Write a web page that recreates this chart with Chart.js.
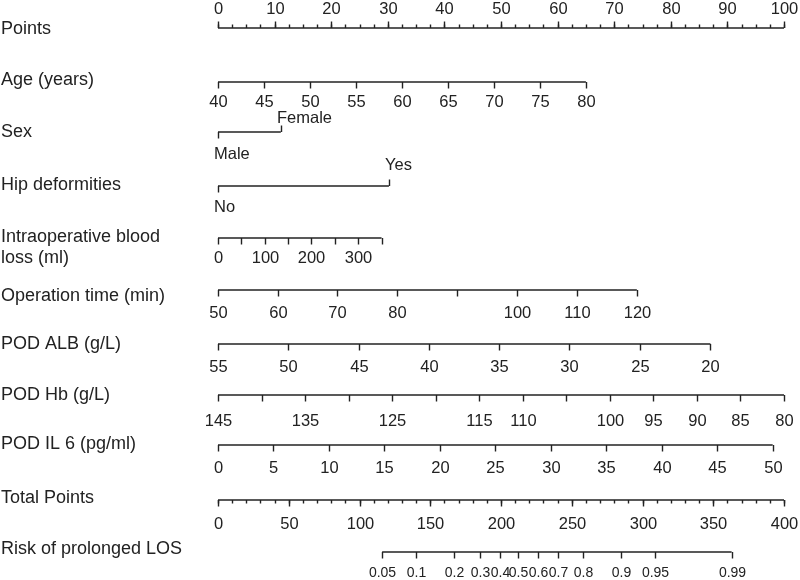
<!DOCTYPE html>
<html><head><meta charset="utf-8">
<script src="https://cdn.jsdelivr.net/npm/chart.js@4.4.1/dist/chart.umd.min.js"></script>
<style>html,body{margin:0;padding:0;background:#fff;}</style>
</head><body>
<canvas id="c" width="800" height="580"></canvas>
<script>
// ---------------- data ----------------
const pointsTicks = [0,10,20,30,40,50,60,70,80,90,100];
const ageValues = [40,45,50,55,60,65,70,75,80];
const agePoints = [0,8.1,16.3,24.4,32.5,40.6,48.8,56.9,65.0];
const sexLabels = ['Male','Female'];
const sexPoints = [0,11.1];
const hipLabels = ['No','Yes'];
const hipPoints = [0,30.2];
const bloodLossValues = [0,50,100,150,200,250,300,350];
const bloodLossShown = ['0','','100','','200','','300',''];
const bloodLossPoints = [0,4.1,8.3,12.4,16.5,20.6,24.8,28.9];
const opTimeValues = [50,60,70,80,90,100,110,120];
const opTimeShown = ['50','60','70','80','','100','110','120'];
const opTimePoints = [0,10.6,21.1,31.7,42.3,52.9,63.4,74.0];
const albValues = [55,50,45,40,35,30,25,20];
const albPoints = [0,12.4,24.9,37.3,49.7,62.1,74.6,87.0];
const hbValues = [145,140,135,130,125,120,115,110,105,100,95,90,85,80];
const hbShown = ['145','','135','','125','','115','110','','100','95','90','85','80'];
const hbPoints = [0,7.7,15.4,23.1,30.8,38.5,46.2,53.8,61.5,69.2,76.9,84.6,92.3,100];
const il6Values = [0,5,10,15,20,25,30,35,40,45,50];
const il6Points = [0,9.8,19.6,29.4,39.2,49.0,58.8,68.6,78.4,88.2,98.0];
const totalTicks = [0,50,100,150,200,250,300,350,400];
const riskValues = [0.05,0.1,0.2,0.3,0.4,0.5,0.6,0.7,0.8,0.9,0.95,0.99];
const riskTotalPoints = [116,140,167,185,199,212,226,240,258,285,309,363];

// ---------------- layout / style ----------------
const INK = '#222';
const FONT = '"Liberation Sans", Arial, sans-serif';
const ROW_FONT = '18px ' + FONT;
const TICK_FONT = '16.5px ' + FONT;
const RISK_FONT = '14px ' + FONT;

function numRow(vals, shown, pts){
  return vals.map((v,i)=>({p:pts[i], text: shown ? shown[i] : String(v)}));
}
const rows = [
  {title:['Points'], titleY:[29], lineY:28, axis:'x', dir:-1, textY:9,
   ticks: pointsTicks.map(v=>({p:v,text:String(v)})), minorStep:2.5, minorMax:100},
  {title:['Age (years)'], titleY:[80], lineY:82, axis:'x', dir:1, textY:102,
   ticks: numRow(ageValues,null,agePoints)},
  {title:['Sex'], titleY:[132], lineY:132, axis:'x', cat:true,
   ticks: sexLabels.map((t,i)=>({p:sexPoints[i], text:t, dir:i===0?1:-1, ty:i===0?154:118}))},
  {title:['Hip deformities'], titleY:[185], lineY:186, axis:'x', cat:true,
   ticks: hipLabels.map((t,i)=>({p:hipPoints[i], text:t, dir:i===0?1:-1, ty:i===0?207:165}))},
  {title:['Intraoperative blood','loss (ml)'], titleY:[237,258], lineY:238, axis:'x', dir:1, textY:258,
   ticks: numRow(bloodLossValues,bloodLossShown,bloodLossPoints)},
  {title:['Operation time (min)'], titleY:[296], lineY:290, axis:'x', dir:1, textY:313,
   ticks: numRow(opTimeValues,opTimeShown,opTimePoints)},
  {title:['POD ALB (g/L)'], titleY:[344], lineY:344, axis:'x', dir:1, textY:367,
   ticks: numRow(albValues,null,albPoints)},
  {title:['POD Hb (g/L)'], titleY:[395], lineY:395, axis:'x', dir:1, textY:421,
   ticks: numRow(hbValues,hbShown,hbPoints)},
  {title:['POD IL 6 (pg/ml)'], titleY:[444], lineY:445, axis:'x', dir:1, textY:468,
   ticks: numRow(il6Values,null,il6Points)},
  {title:['Total Points'], titleY:[498], lineY:500, axis:'xt', dir:1, textY:524,
   ticks: totalTicks.map(v=>({p:v,text:String(v)})), minorStep:10, minorMax:400},
  {title:['Risk of prolonged LOS'], titleY:[549], lineY:552, axis:'xt', dir:1, textY:573, small:true,
   ticks: riskValues.map((v,i)=>({p:riskTotalPoints[i], text:String(v)}))}
];

const datasets = rows.map(r=>{
  const ps = r.ticks.map(t=>t.p);
  return {
    data:[{x:Math.min(...ps), y:r.lineY},{x:Math.max(...ps), y:r.lineY}],
    xAxisID:r.axis, yAxisID:'y', showLine:true, pointRadius:0,
    borderColor:INK, borderWidth:1.4, fill:false
  };
});

const nomo = {
  id:'nomo',
  afterDatasetsDraw(chart){
    const ctx = chart.ctx, ys = chart.scales.y;
    ctx.save();
    ctx.strokeStyle = INK; ctx.fillStyle = INK; ctx.lineWidth = 1.4;
    rows.forEach(r=>{
      const xs = chart.scales[r.axis];
      const yl = ys.getPixelForValue(r.lineY);
      ctx.font = ROW_FONT; ctx.textAlign='left'; ctx.textBaseline='middle';
      r.title.forEach((t,i)=>ctx.fillText(t, 1, ys.getPixelForValue(r.titleY[i])));
      if (r.minorStep){
        for (let v=0; v<=r.minorMax+1e-9; v+=r.minorStep){
          const px = Math.round(xs.getPixelForValue(v))+0.5;
          ctx.beginPath(); ctx.moveTo(px, yl); ctx.lineTo(px, yl + r.dir*3.5); ctx.stroke();
        }
      }
      r.ticks.forEach(t=>{
        const px = Math.round(xs.getPixelForValue(t.p))+0.5;
        const d = r.cat ? t.dir : r.dir;
        ctx.beginPath(); ctx.moveTo(px, yl); ctx.lineTo(px, yl + d*6.5); ctx.stroke();
        if (!t.text) return;
        ctx.textBaseline='middle';
        if (r.cat){
          ctx.font = TICK_FONT; ctx.textAlign='left';
          ctx.fillText(t.text, px-4.5, ys.getPixelForValue(t.ty));
        } else {
          ctx.font = r.small ? RISK_FONT : TICK_FONT; ctx.textAlign='center';
          ctx.fillText(t.text, px, ys.getPixelForValue(r.textY));
        }
      });
    });
    ctx.restore();
  }
};

new Chart(document.getElementById('c'), {
  type:'scatter',
  data:{datasets},
  options:{
    responsive:false, animation:false, devicePixelRatio:1,
    layout:{padding:{left:218, right:16, top:0, bottom:0}},
    plugins:{legend:{display:false}, tooltip:{enabled:false}},
    scales:{
      x:{type:'linear', min:0, max:100, display:false},
      xt:{type:'linear', min:0, max:400, display:false},
      y:{type:'linear', min:0, max:580, reverse:true, display:false}
    }
  },
  plugins:[nomo]
});
</script>
</body></html>
